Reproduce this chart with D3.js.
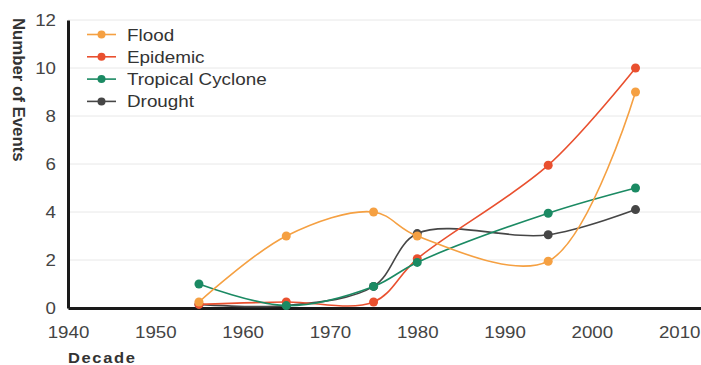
<!DOCTYPE html>
<html><head><meta charset="utf-8">
<script src="https://cdn.jsdelivr.net/npm/d3@7"></script>
<style>
html,body{margin:0;padding:0;background:#fff;}
svg text{font-family:"Liberation Sans",Arial,sans-serif;}
</style></head>
<body><svg id="c" width="701" height="365"></svg>
<script>
const decades = [1955, 1965, 1975, 1980, 1995, 2005];
const seriesNames = ["Flood", "Epidemic", "Tropical Cyclone", "Drought"];
const flood    = [0.25, 3, 4, 3, 1.95, 9];
const epidemic = [0.15, 0.25, 0.25, 2.05, 5.95, 10];
const tropical = [1, 0.1, 0.9, 1.9, 3.95, 5];
const drought  = [0.15, 0.1, 0.9, 3.1, 3.05, 4.1];
const xTicks = [1940, 1950, 1960, 1970, 1980, 1990, 2000, 2010];
const yTicks = [0, 2, 4, 6, 8, 10, 12];
const colors = ["#f5a042", "#e9502f", "#1b8a63", "#464646"];

const svg = d3.select("#c");
const x = d3.scaleLinear().domain([1940, 2012.5]).range([68, 701]);
const y = d3.scaleLinear().domain([0, 12]).range([308, 20]);
const SX = 1.1;

// gridlines
svg.append("g").selectAll("line").data(yTicks.slice(1)).join("line")
  .attr("x1", 68).attr("x2", 701).attr("y1", d => y(d)).attr("y2", d => y(d))
  .attr("stroke", "#e8e8e8").attr("stroke-width", 1);

// y axis
const yAxis = svg.append("g").attr("transform", "translate(68,0)")
  .call(d3.axisLeft(y).tickValues(yTicks).tickSize(0).tickPadding(11));
yAxis.select(".domain").attr("stroke", "#1a1a1a").attr("stroke-width", 3);
yAxis.selectAll("text").attr("font-size", 17).attr("fill", "#444")
  .attr("transform", `scale(${SX},1)`).attr("x", -12 / SX);

// x axis
const xAxis = svg.append("g").attr("transform", "translate(0,308)")
  .call(d3.axisBottom(x).tickValues(xTicks).tickFormat(d3.format("d")).tickSize(0).tickPadding(11));
xAxis.select(".domain").attr("stroke", "#1a1a1a").attr("stroke-width", 3);
xAxis.selectAll(".tick").each(function(d){
  d3.select(this).select("text")
    .attr("font-size", 17).attr("fill", "#444")
    .attr("transform", `scale(${SX},1)`).attr("dy", "0.72em").attr("y", 17.5);
});

// series
const allSeries = [flood, epidemic, tropical, drought];
const drawOrder = [3, 1, 2, 0];
const line = d3.line().x(d => x(d[0])).y(d => y(d[1])).curve(d3.curveCatmullRom.alpha(0.5));
drawOrder.forEach(i => {
  const pts = decades.map((d, k) => [d, allSeries[i][k]]);
  const g = svg.append("g");
  g.append("path").attr("d", line(pts)).attr("fill", "none")
    .attr("stroke", colors[i]).attr("stroke-width", 1.6);
  g.selectAll("circle").data(pts).join("circle")
    .attr("cx", d => x(d[0])).attr("cy", d => y(d[1])).attr("r", 4.5)
    .attr("fill", colors[i]);
});

// legend
const leg = svg.append("g");
seriesNames.forEach((name, i) => {
  const cy = 34.5 + i * 22.3;
  leg.append("line").attr("x1", 87).attr("x2", 116).attr("y1", cy).attr("y2", cy)
    .attr("stroke", colors[i]).attr("stroke-width", 1.6);
  leg.append("circle").attr("cx", 101.5).attr("cy", cy).attr("r", 4).attr("fill", colors[i]);
  leg.append("text").attr("transform", `translate(127,${cy}) scale(1.13,1)`)
    .attr("dy", "0.36em").attr("font-size", 16.7).attr("fill", "#333").text(name);
});

// axis titles
svg.append("text").attr("transform", "translate(13,18) rotate(90)")
  .attr("font-size", 16.8).attr("font-weight", "bold").attr("fill", "#333")
  .text("Number of Events");
svg.append("text").attr("transform", "translate(68,363) scale(1.1,1)")
  .attr("font-size", 15).attr("font-weight", "bold").attr("fill", "#333")
  .attr("letter-spacing", 1.5).text("Decade");
</script></body></html>
